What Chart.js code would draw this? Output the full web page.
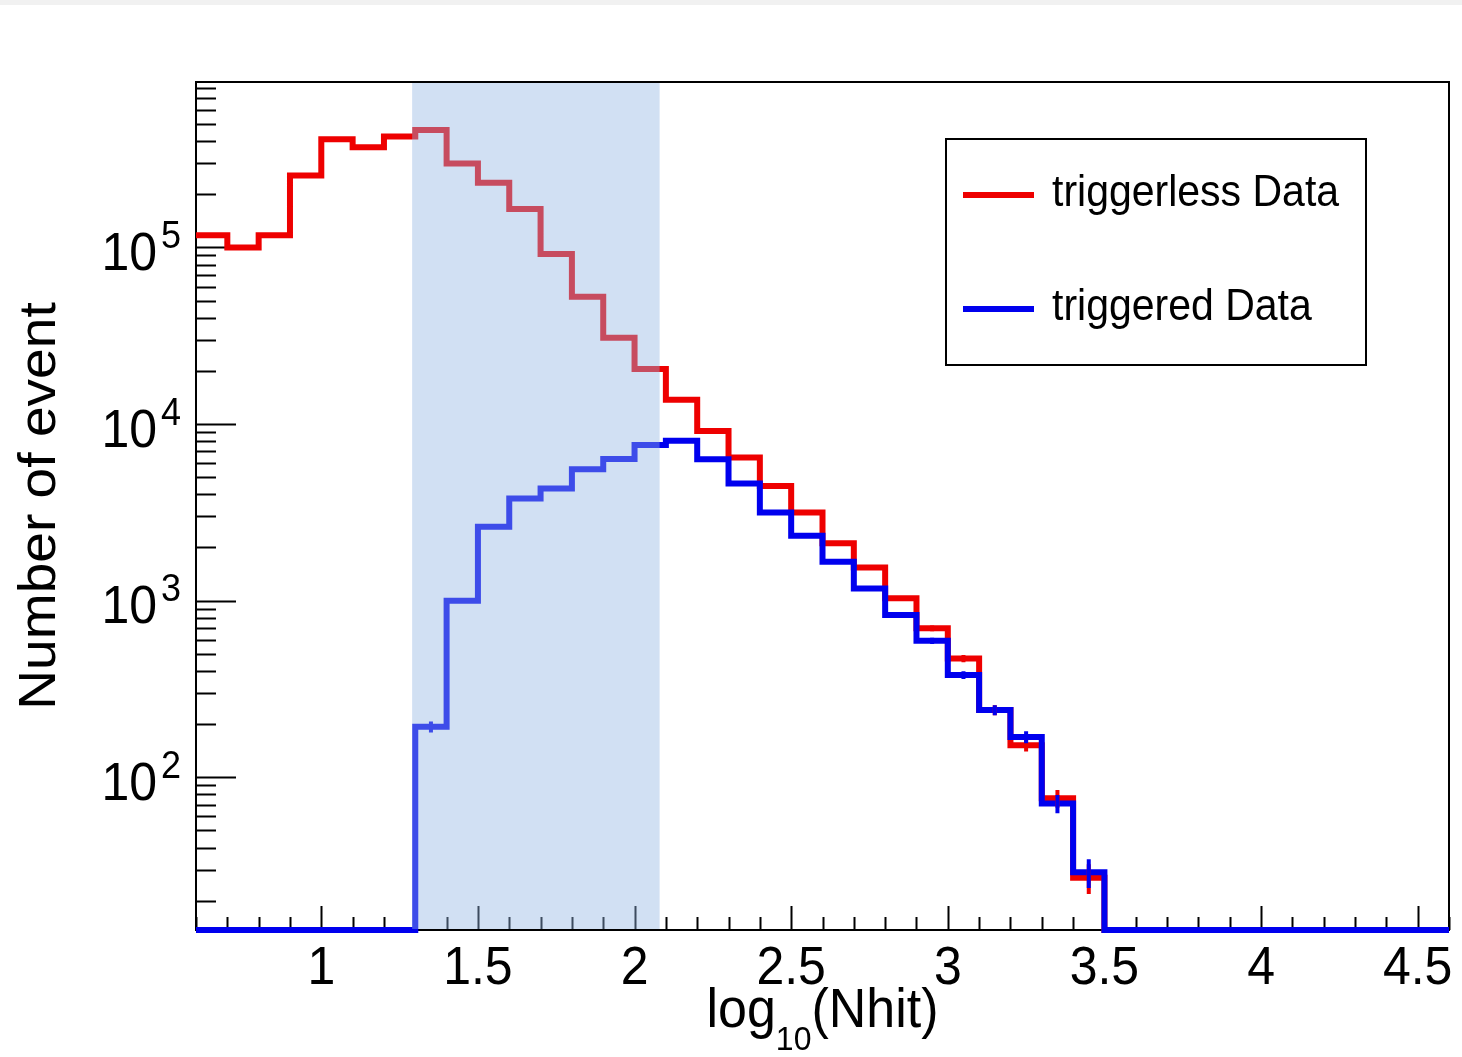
<!DOCTYPE html>
<html>
<head>
<meta charset="utf-8">
<title>log10(Nhit)</title>
<script src="https://cdn.jsdelivr.net/npm/chart.js@4.4.1/dist/chart.umd.min.js"></script>
<style>
    html, body { margin: 0; padding: 0; background: #ffffff; }
    #wrap { width: 1462px; height: 1057px; position: relative; }
</style>
</head>
<body>
<div id="wrap"><canvas id="histChart"></canvas></div>
<script>
// Bin low edges (width 0.1) in log10(Nhit)
const binEdges = [0.6, 0.7, 0.8, 0.9, 1.0, 1.1, 1.2, 1.3, 1.4, 1.5,
                  1.6, 1.7, 1.8, 1.9, 2.0, 2.1, 2.2, 2.3, 2.4, 2.5,
                  2.6, 2.7, 2.8, 2.9, 3.0, 3.1, 3.2, 3.3, 3.4, 3.5,
                  3.6, 3.7, 3.8, 3.9, 4.0, 4.1, 4.2, 4.3, 4.4, 4.5, 4.6];

// Counts per bin
const triggerless = [117000, 100000, 117000, 255000, 409000, 369000, 424000, 462000, 299000, 232000,
                     165000, 91800, 52600, 30800, 20500, 13700, 9120, 6470, 4450, 3160,
                     2110, 1540, 1030, 697, 470, 240, 152, 76, 27, 0,
                     0, 0, 0, 0, 0, 0, 0, 0, 0, 0];
const triggered = [0, 0, 0, 0, 0, 0, 0, 193, 1000, 2620,
                   3790, 4320, 5540, 6340, 7600, 8040, 6310, 4610, 3160, 2330,
                   1660, 1170, 828, 593, 379, 240, 169, 71, 29, 0,
                   0, 0, 0, 0, 0, 0, 0, 0, 0, 0];

const seriesLabels = ['triggerless Data', 'triggered Data'];

// Axis ranges and ticks
const xRange = [0.6, 4.6];
const yRange = [13.65, 8.64e5];
const xMajorTicks = [1, 1.5, 2, 2.5, 3, 3.5, 4, 4.5];
const xTickLabels = ['1', '1.5', '2', '2.5', '3', '3.5', '4', '4.5'];
const yDecades = [2, 3, 4, 5];

// Shaded window
const bandRange = [1.29, 2.08];

document.addEventListener('DOMContentLoaded', () => {

    const redColor = '#ee0000';
    const blueColor = '#0000ee';
    const bandColor = 'rgba(145, 180, 226, 0.42)';
    const fontFamily = "'Liberation Sans', Arial, sans-serif";
    const textStretch = 1.06;

    // histogram outline: two points per bin, empty bins sit on the axis floor
    function outline(values) {
        const pts = [];
        values.forEach((v, i) => {
            const y = v > 0 ? v : yRange[0];
            pts.push({ x: binEdges[i], y: y });
            pts.push({ x: binEdges[i + 1], y: y });
        });
        return pts;
    }

    function stretchedText(ctx, text, x, y, font, align) {
        ctx.save();
        ctx.font = font;
        ctx.textAlign = align || 'left';
        ctx.textBaseline = 'alphabetic';
        ctx.translate(x, y);
        ctx.scale(1, textStretch);
        ctx.fillText(text, 0, 0);
        ctx.restore();
    }

    const rootStyle = {
        id: 'rootStyle',
        beforeDraw(chart) {
            const ctx = chart.ctx;
            ctx.save();
            ctx.fillStyle = '#ffffff';
            ctx.fillRect(0, 0, chart.width, chart.height);
            ctx.fillStyle = '#f1f1f1';
            ctx.fillRect(0, 0, chart.width, 5);
            ctx.restore();
        },
        beforeDatasetsDraw(chart) {
            const ctx = chart.ctx;
            const area = chart.chartArea;
            const xs = chart.scales.x;
            const ys = chart.scales.y;
            ctx.save();
            ctx.strokeStyle = '#000000';
            ctx.fillStyle = '#000000';
            ctx.lineWidth = 2;

            // bottom ticks
            ctx.beginPath();
            for (let k = 6; k <= 46; k++) {
                const v = k / 10;
                const px = Math.round(xs.getPixelForValue(v)) + 0.5;
                const major = k % 5 === 0;
                ctx.moveTo(px, area.bottom);
                ctx.lineTo(px, area.bottom - (major ? 24 : 13));
            }
            ctx.stroke();

            // left log ticks
            ctx.beginPath();
            for (let d = 1; d <= 5; d++) {
                for (let m = 1; m <= 9; m++) {
                    const v = m * Math.pow(10, d);
                    if (v < yRange[0] || v > yRange[1]) continue;
                    const py = Math.round(ys.getPixelForValue(v)) + 0.5;
                    ctx.moveTo(area.left, py);
                    ctx.lineTo(area.left + (m === 1 ? 40 : 20), py);
                }
            }
            ctx.stroke();

            // frame
            ctx.strokeRect(area.left, area.top, area.right - area.left, area.bottom - area.top);

            // x tick labels
            xMajorTicks.forEach((v, i) => {
                stretchedText(ctx, xTickLabels[i], xs.getPixelForValue(v), 984, '50px ' + fontFamily, 'center');
            });

            // y tick labels 10^n
            yDecades.forEach(n => {
                const py = ys.getPixelForValue(Math.pow(10, n));
                stretchedText(ctx, '10', 157, py + 22.6, '50px ' + fontFamily, 'right');
                stretchedText(ctx, String(n), 161, py + 0.6, '36px ' + fontFamily, 'left');
            });

            // x title log10(Nhit)
            ctx.font = '52px ' + fontFamily;
            const wLog = ctx.measureText('log').width;
            const wPar = ctx.measureText('(Nhit)').width;
            ctx.font = '32px ' + fontFamily;
            const wSub = ctx.measureText('10').width;
            const cx = (area.left + area.right) / 2;
            let tx = cx - (wLog + wSub + wPar) / 2;
            stretchedText(ctx, 'log', tx, 1027, '52px ' + fontFamily, 'left');
            tx += wLog;
            stretchedText(ctx, '10', tx, 1050, '32px ' + fontFamily, 'left');
            tx += wSub;
            stretchedText(ctx, '(Nhit)', tx, 1027, '52px ' + fontFamily, 'left');

            // y title
            ctx.save();
            ctx.translate(55, (area.top + area.bottom) / 2);
            ctx.rotate(-Math.PI / 2);
            ctx.scale(textStretch, 1);
            ctx.font = '52px ' + fontFamily;
            ctx.textAlign = 'center';
            ctx.fillText('Number of event', 0, 0);
            ctx.restore();

            ctx.restore();
        },
        afterDatasetsDraw(chart) {
            const ctx = chart.ctx;
            const area = chart.chartArea;
            const xs = chart.scales.x;
            const ys = chart.scales.y;
            ctx.save();

            // statistical error bars at bin centres
            [[triggerless, redColor], [triggered, blueColor]].forEach(([vals, col]) => {
                ctx.strokeStyle = col;
                ctx.lineWidth = 4;
                ctx.beginPath();
                vals.forEach((v, i) => {
                    if (v <= 0) return;
                    const e = Math.sqrt(v);
                    const px = xs.getPixelForValue((binEdges[i] + binEdges[i + 1]) / 2);
                    ctx.moveTo(px, ys.getPixelForValue(Math.max(v - e, yRange[0])));
                    ctx.lineTo(px, ys.getPixelForValue(v + e));
                });
                ctx.stroke();
            });

            // shaded window on top of the histograms
            const bx0 = xs.getPixelForValue(bandRange[0]);
            const bx1 = xs.getPixelForValue(bandRange[1]);
            ctx.fillStyle = bandColor;
            ctx.fillRect(bx0, area.top + 1, bx1 - bx0, area.bottom - area.top - 2);

            // legend
            const lx0 = 946, ly0 = 139, lx1 = 1366, ly1 = 365;
            ctx.fillStyle = '#ffffff';
            ctx.fillRect(lx0, ly0, lx1 - lx0, ly1 - ly0);
            ctx.strokeStyle = '#000000';
            ctx.lineWidth = 2;
            ctx.strokeRect(lx0, ly0, lx1 - lx0, ly1 - ly0);
            const rows = [[seriesLabels[0], redColor, 195, 206], [seriesLabels[1], blueColor, 309, 320]];
            rows.forEach(([label, col, lineY, textY]) => {
                ctx.strokeStyle = col;
                ctx.lineWidth = 6;
                ctx.beginPath();
                ctx.moveTo(963, lineY);
                ctx.lineTo(1034, lineY);
                ctx.stroke();
                ctx.fillStyle = '#000000';
                stretchedText(ctx, label, 1052, textY, '41px ' + fontFamily, 'left');
            });

            ctx.restore();
        }
    };

    const ctx = document.getElementById('histChart').getContext('2d');

    new Chart(ctx, {
        type: 'line',
        data: {
            datasets: [
                {
                    label: seriesLabels[0],
                    data: outline(triggerless),
                    borderColor: redColor,
                    borderWidth: 6,
                    pointRadius: 0,
                    tension: 0,
                    fill: false,
                    clip: 8,
                    order: 2
                },
                {
                    label: seriesLabels[1],
                    data: outline(triggered),
                    borderColor: blueColor,
                    borderWidth: 6,
                    pointRadius: 0,
                    tension: 0,
                    fill: false,
                    clip: 8,
                    order: 1
                }
            ]
        },
        options: {
            responsive: true,
            maintainAspectRatio: false,
            animation: false,
            devicePixelRatio: 1,
            layout: {
                padding: { left: 196, right: 13, top: 82, bottom: 127 }
            },
            plugins: {
                legend: { display: false },
                tooltip: { enabled: false }
            },
            scales: {
                x: {
                    type: 'linear',
                    min: xRange[0],
                    max: xRange[1],
                    display: false
                },
                y: {
                    type: 'logarithmic',
                    min: yRange[0],
                    max: yRange[1],
                    display: false
                }
            }
        },
        plugins: [rootStyle]
    });
});
</script>
</body>
</html>
